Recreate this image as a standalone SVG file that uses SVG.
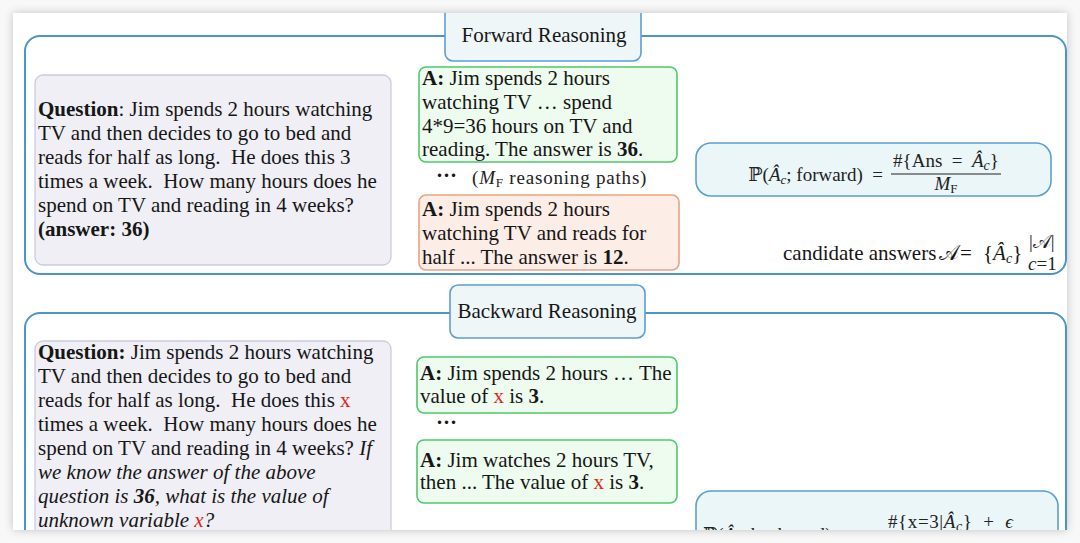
<svg xmlns="http://www.w3.org/2000/svg" width="1080" height="543" viewBox="0 0 1080 543">
<style>
.t{font-family:"Liberation Serif","Times New Roman",serif;font-size:21px;fill:#161616}
.m{font-family:"Liberation Serif","DejaVu Serif",serif;font-size:19px;fill:#222}
.b{font-weight:bold}
.i{font-style:italic}
.r{fill:#e3261c}
.outer{fill:none;stroke:#4b95c7;stroke-width:2}
.title{fill:#eef6f8;stroke:#5b9fd1;stroke-width:1.6}
.q{fill:#efeff5;stroke:#cbcbe0;stroke-width:1.3}
.g{fill:#edfcef;stroke:#4fc76c;stroke-width:1.6}
.o{fill:#fcede7;stroke:#e9a283;stroke-width:1.6}
.f{fill:#eaf6f8;stroke:#5b9fd1;stroke-width:1.6}
</style>
<defs>
<filter id="sh" x="-5%" y="-5%" width="110%" height="110%">
<feGaussianBlur stdDeviation="5"/>
</filter>
<clipPath id="card"><rect x="13" y="13" width="1054" height="517"/></clipPath>
</defs>
<rect width="1080" height="543" fill="#f8f8f8"/>
<rect x="13" y="13" width="1054" height="517" fill="#000" opacity="0.22" filter="url(#sh)"/>
<rect x="13" y="13" width="1054" height="517" fill="#fff"/>
<g clip-path="url(#card)">
<g id="forward">
<rect class="outer" x="25" y="36" width="1041" height="238" rx="15"/>
<g id="forward-title">
<rect class="title" x="445" y="4" width="196" height="57" rx="8"/>
<text class="t" x="544" y="42" text-anchor="middle">Forward Reasoning</text>
</g>
<g id="forward-question">
<rect class="q" x="35" y="75" width="356" height="190" rx="8"/>
<text class="t" x="38" y="116"><tspan class="b">Question</tspan>: Jim spends 2 hours watching</text>
<text class="t" x="38" y="140">TV and then decides to go to bed and</text>
<text class="t" x="38" y="164" xml:space="preserve">reads for half as long.  He does this 3</text>
<text class="t" x="38" y="188" xml:space="preserve">times a week.  How many hours does he</text>
<text class="t" x="38" y="212">spend on TV and reading in 4 weeks?</text>
<text class="t b" x="38" y="236">(answer: 36)</text>
</g>
<g id="forward-path1">
<rect class="g" x="419" y="67" width="258" height="95" rx="7"/>
<text class="t" x="422" y="85"><tspan class="b">A:</tspan> Jim spends 2 hours</text>
<text class="t" x="422" y="109">watching TV … spend</text>
<text class="t" x="422" y="133">4*9=36 hours on TV and</text>
<text class="t" x="422" y="156">reading. The answer is <tspan class="b">36</tspan>.</text>
</g>
<g id="forward-dots">
<text class="t b" x="436" y="182" font-size="17">···</text>
<text class="m" x="472" y="184" fill="#333" font-size="20" letter-spacing="0.8">(<tspan class="i">M</tspan><tspan font-size="13" dy="3">F</tspan><tspan dy="-3"> reasoning paths)</tspan></text>
</g>
<g id="forward-path2">
<rect class="o" x="419" y="195" width="260" height="75" rx="7"/>
<text class="t" x="422" y="216"><tspan class="b">A:</tspan> Jim spends 2 hours</text>
<text class="t" x="422" y="240">watching TV and reads for</text>
<text class="t" x="422" y="264">half ... The answer is <tspan class="b">12</tspan>.</text>
</g>
<g id="forward-formula">
<rect class="f" x="696" y="143" width="355" height="53" rx="15"/>
<text class="m" x="883" y="181" text-anchor="end" xml:space="preserve">ℙ(<tspan class="i">Â</tspan><tspan class="i" font-size="13" dy="3">c</tspan><tspan dy="-3">; forward)  =</tspan></text>
<text class="m" x="946" y="167" text-anchor="middle" font-size="20" xml:space="preserve">#{Ans  =  <tspan class="i">Â</tspan><tspan class="i" font-size="14" dy="3">c</tspan><tspan dy="-3">}</tspan></text>
<line x1="891" y1="174" x2="1001" y2="174" stroke="#222" stroke-width="1"/>
<text class="m" x="946" y="190" text-anchor="middle" font-size="20"><tspan class="i">M</tspan><tspan font-size="13" dy="3">F</tspan></text>
</g>
<g id="candidates">
<text class="t" x="783" y="260" font-size="20.3">candidate answers</text>
<text class="t" x="939" y="260">𝒜</text>
<text class="t" x="960" y="260">=</text>
<text class="t" x="983" y="260">{<tspan class="i">Â</tspan><tspan class="i" font-size="14" dy="3">c</tspan><tspan dy="-3">}</tspan></text>
<text class="m" x="1029" y="248" font-size="13">|𝒜|</text>
<text class="m" x="1028" y="270" font-size="13"><tspan class="i">c</tspan>=1</text>
</g>
</g>
<g id="backward">
<rect class="outer" x="25" y="313" width="1041" height="300" rx="15"/>
<g id="backward-title">
<rect class="title" x="450" y="285" width="195" height="53" rx="8"/>
<text class="t" x="547" y="318" text-anchor="middle">Backward Reasoning</text>
</g>
<g id="backward-question">
<rect class="q" x="35" y="341" width="356" height="210" rx="8"/>
<text class="t" x="38" y="359"><tspan class="b">Question:</tspan> Jim spends 2 hours watching</text>
<text class="t" x="38" y="383">TV and then decides to go to bed and</text>
<text class="t" x="38" y="407" xml:space="preserve">reads for half as long.  He does this <tspan class="r">x</tspan></text>
<text class="t" x="38" y="431" xml:space="preserve">times a week.  How many hours does he</text>
<text class="t" x="38" y="455">spend on TV and reading in 4 weeks? <tspan class="i">If</tspan></text>
<text class="t i" x="38" y="479">we know the answer of the above</text>
<text class="t i" x="38" y="503">question is <tspan class="b">36</tspan>, what is the value of</text>
<text class="t i" x="38" y="527">unknown variable <tspan class="r">x</tspan>?</text>
</g>
<g id="backward-path1">
<rect class="g" x="417" y="357" width="260" height="56" rx="7"/>
<text class="t" x="420" y="380"><tspan class="b">A:</tspan> Jim spends 2 hours … The</text>
<text class="t" x="420" y="403">value of <tspan class="r">x</tspan> is <tspan class="b">3</tspan>.</text>
</g>
<text class="t b" x="436" y="429" font-size="17">···</text>
<g id="backward-path2">
<rect class="g" x="417" y="440" width="260" height="63" rx="7"/>
<text class="t" x="420" y="467"><tspan class="b">A:</tspan> Jim watches 2 hours TV,</text>
<text class="t" x="420" y="489">then ... The value of <tspan class="r">x</tspan> is <tspan class="b">3</tspan>.</text>
</g>
<g id="backward-formula">
<rect class="f" x="696" y="491" width="362" height="80" rx="15"/>
<text class="m" x="703" y="541">ℙ(<tspan class="i">Â</tspan><tspan class="i" font-size="13" dy="3">c</tspan><tspan dy="-3">; backward) =</tspan></text>
<text class="m" x="888" y="528" font-size="20" letter-spacing="0.6" xml:space="preserve">#{x=3|<tspan class="i">Â</tspan><tspan class="i" font-size="14" dy="3">c</tspan><tspan dy="-3">}  +  </tspan><tspan class="i">ϵ</tspan></text>
</g>
</g>
</g>
</svg>
